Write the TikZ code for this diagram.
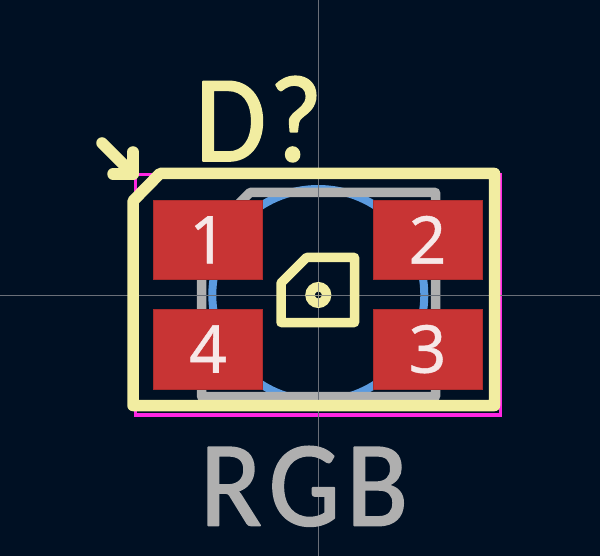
\documentclass[tikz,border=0pt]{standalone}
\usepackage{fontspec}
\newfontfamily\padfont[FakeBold=0.6]{Noto Sans}
\newfontfamily\silkfont[FakeBold=1.4, FakeStretch=0.93]{Carlito}
\definecolor{boardbg}{HTML}{001023}
\definecolor{silk}{HTML}{F2EDA1}
\definecolor{fab}{HTML}{AFAFAF}
\definecolor{padred}{HTML}{C83434}
\definecolor{padtext}{HTML}{F6E8E8}
\definecolor{court}{HTML}{FF26E2}
\definecolor{body}{HTML}{5B9BE0}
\definecolor{cross}{HTML}{6A6F78}
\tikzset{
	silkline/.style={draw=silk, line width=11.5pt, line cap=round, line join=round},
	markline/.style={draw=silk, line width=9.5pt, line cap=round, line join=round},
	fabline/.style={draw=fab, line width=9.5pt, line join=round},
	padbox/.style={fill=padred, draw=padred!85!black, line width=0.5pt},
	padnum/.style={text=padtext, font=\padfont\fontsize{66}{66}\selectfont, inner sep=0pt},
	silktext/.style={text=silk, font=\silkfont\fontsize{124}{124}\selectfont, inner sep=0pt, anchor=base west, line join=round},
	fabtext/.style={text=fab, font=\silkfont\fontsize{122}{122}\selectfont, inner sep=0pt, anchor=base west, line join=round},
}
\begin{document}
\begin{tikzpicture}[x=1pt, y=-1pt]
	\useasboundingbox[fill=boardbg] (0,0) rectangle (600,556);

	% courtyard and body
	\draw[court, line width=3.5pt] (135.5,174.5) rectangle (500.5,415);
	\draw[body, line width=8pt] (318.3,295) circle (106);
	\draw[fabline] (250,192.5) -- (435.5,192.5) -- (435.5,396.5) -- (201.5,396.5) -- (201.5,241) -- cycle;

	% pads
	\foreach \x/\y/\n in {153.6/200/1, 373/200/2, 373/309.3/3, 153.6/309.3/4}
		\draw[padbox] (\x,\y) rectangle ++(109,79.6) node[midway, padnum] (pad\n) {\n};

	% cross hair
	\draw[cross, line width=0.8pt] (318.3,0) -- (318.3,556);
	\draw[cross, line width=0.8pt] (0,295) -- (600,295);

	% silk outline
	\draw[silkline] (160,173.5) -- (494.5,173.5) -- (494.5,405.5) -- (133,405.5) -- (133,201) -- cycle;
	\draw[silkline] (102,143) -- (133,174);
	\draw[silkline] (133,152) -- (133,174) -- (113,174);

	% center mark
	\draw[markline] (306.5,257.5) -- (354.5,257.5) -- (354.5,322.5) -- (281,322.5) -- (281,283) -- cycle;
	\draw[silk, line width=9.5pt] (318.3,295) circle (8.25);
	\draw[cross!70!silk, line width=0.7pt] (318.3,283) -- (318.3,307);
	\draw[cross!70!silk, line width=0.7pt] (306,295) -- (331,295);

	% labels
	\node[silktext] (refdes) at (195,161) {D\kern3pt?};
	\node[fabtext] (value) at (200,525.5) {R\kern7ptG\kern6ptB};
\end{tikzpicture}
\end{document}
